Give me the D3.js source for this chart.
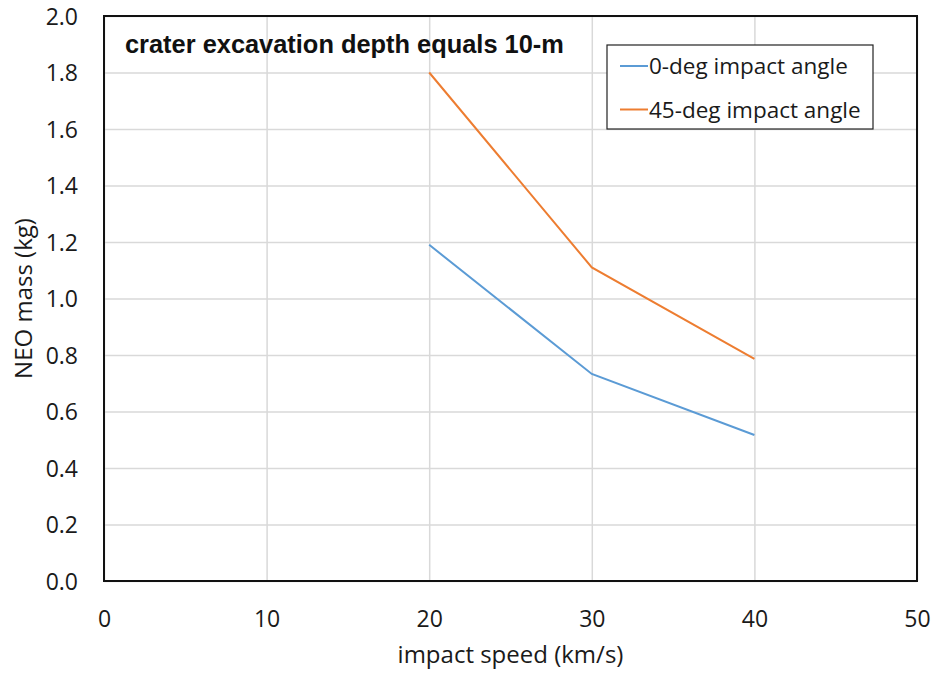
<!DOCTYPE html>
<html>
<head>
<meta charset="utf-8">
<script src="https://cdn.jsdelivr.net/npm/d3@7"></script>
<style>
  body { margin: 0; background: #fff; }
</style>
</head>
<body>
<svg id="chart" width="935" height="673"></svg>
<script>
// Impact speed (km/s) sampled for each curve
const speeds = [20, 30, 40];
// NEO mass (kg) needed for a 10-m excavation depth
const mass0deg = [1.19, 0.733, 0.517];
const mass45deg = [1.80, 1.11, 0.786];
const seriesNames = ["0-deg impact angle", "45-deg impact angle"];
const seriesColors = ["#5b9bd5", "#ed7d31"];
const xTicks = [0, 10, 20, 30, 40, 50];
const yTicks = [0, 0.2, 0.4, 0.6, 0.8, 1.0, 1.2, 1.4, 1.6, 1.8, 2.0];
const chartTitle = "crater excavation depth equals 10-m";
const xTitle = "impact speed (km/s)";
const yTitle = "NEO mass (kg)";

const FONT = "'Open Sans', Lato, sans-serif";
const INK = "#1a1a1a";

const svg = d3.select("#chart");
const m = { left: 104, right: 917, top: 16, bottom: 581 };

const x = d3.scaleLinear().domain([0, 50]).range([m.left, m.right]);
const y = d3.scaleLinear().domain([0, 2]).range([m.bottom, m.top]);

// Gridlines
svg.append("g")
  .attr("transform", `translate(0,${m.bottom})`)
  .call(d3.axisBottom(x).tickValues(xTicks).tickSize(-(m.bottom - m.top)).tickFormat(""))
  .call(g => g.select(".domain").remove())
  .call(g => g.selectAll("line").attr("stroke", "#d9d9d9").attr("stroke-width", 1.5));
svg.append("g")
  .attr("transform", `translate(${m.left},0)`)
  .call(d3.axisLeft(y).tickValues(yTicks).tickSize(-(m.right - m.left)).tickFormat(""))
  .call(g => g.select(".domain").remove())
  .call(g => g.selectAll("line").attr("stroke", "#d9d9d9").attr("stroke-width", 1.5));

// Tick labels
svg.append("g")
  .attr("transform", `translate(0,${m.bottom})`)
  .call(d3.axisBottom(x).tickValues(xTicks).tickSize(0).tickPadding(30).tickFormat(d3.format("d")))
  .call(g => g.select(".domain").remove())
  .call(g => g.selectAll("text").style("font-size", "23px").style("font-family", FONT).style("fill", INK));
svg.append("g")
  .attr("transform", `translate(${m.left},0)`)
  .call(d3.axisLeft(y).tickValues(yTicks).tickSize(0).tickPadding(26).tickFormat(d3.format(".1f")))
  .call(g => g.select(".domain").remove())
  .call(g => g.selectAll("text").attr("dy", "0.36em")
    .style("font-size", "23px").style("font-family", FONT).style("fill", INK));

// Series lines
const line = d3.line().x((d, i) => x(speeds[i])).y(d => y(d));
[mass0deg, mass45deg].forEach((vals, i) => {
  svg.append("path")
    .datum(vals)
    .attr("fill", "none")
    .attr("stroke", seriesColors[i])
    .attr("stroke-width", 2)
    .attr("d", line);
});

// Plot frame
svg.append("rect")
  .attr("x", m.left).attr("y", m.top)
  .attr("width", m.right - m.left).attr("height", m.bottom - m.top)
  .attr("fill", "none").attr("stroke", "#111").attr("stroke-width", 2);

// Title inside the plot
svg.append("text")
  .attr("x", 125).attr("y", 53)
  .style("font-size", "25.4px").style("font-weight", "bold")
  .style("font-family", "'Liberation Sans', Arial, sans-serif").style("fill", "#111")
  .text(chartTitle);

// Legend
const lg = svg.append("g");
lg.append("rect")
  .attr("x", 607).attr("y", 45).attr("width", 266).attr("height", 84)
  .attr("fill", "#fff").attr("stroke", "#222").attr("stroke-width", 1.2);
seriesNames.forEach((name, i) => {
  const cy = 66 + i * 43.5;
  lg.append("line")
    .attr("x1", 620).attr("x2", 648).attr("y1", cy).attr("y2", cy)
    .attr("stroke", seriesColors[i]).attr("stroke-width", 2);
  lg.append("text")
    .attr("x", 649).attr("y", cy).attr("dy", "0.36em")
    .style("font-size", "22.5px").style("font-family", FONT).style("fill", INK)
    .text(name);
});

// Axis titles
svg.append("text")
  .attr("x", (m.left + m.right) / 2).attr("y", 663)
  .attr("text-anchor", "middle")
  .style("font-size", "24px").style("font-family", FONT).style("fill", INK)
  .text(xTitle);
svg.append("text")
  .attr("transform", `translate(32,${(m.top + m.bottom) / 2}) rotate(-90)`)
  .attr("text-anchor", "middle")
  .style("font-size", "24px").style("font-family", FONT).style("fill", INK)
  .text(yTitle);
</script>
</body>
</html>
